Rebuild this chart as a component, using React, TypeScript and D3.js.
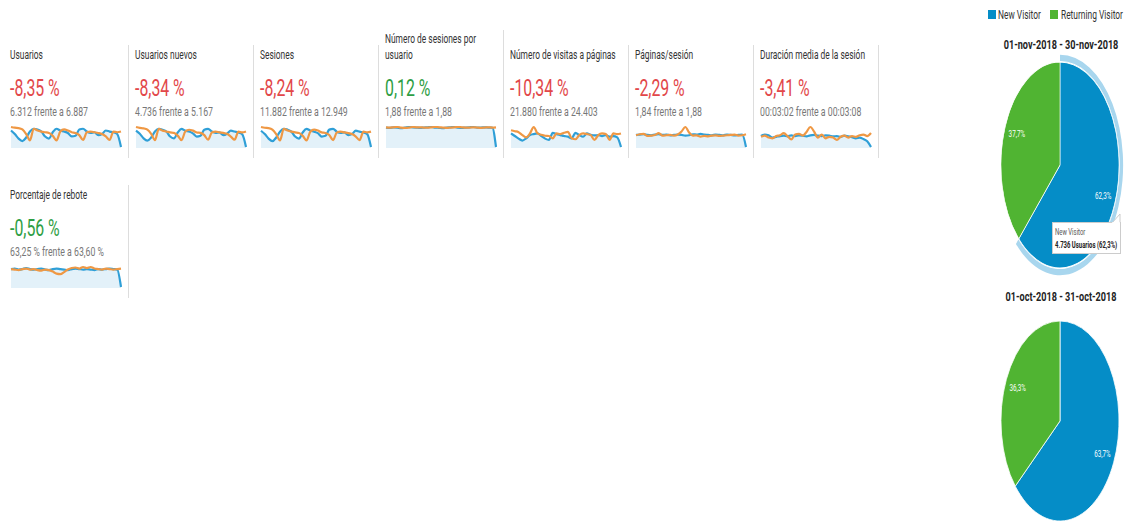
import React from "react";
import * as d3 from "d3";

// metric tiles (current period = Nov 2018, previous = Oct 2018)
const metricNames = [
  "Usuarios",
  "Usuarios nuevos",
  "Sesiones",
  "Número de sesiones por usuario",
  "Número de visitas a páginas",
  "Páginas/sesión",
  "Duración media de la sesión",
  "Porcentaje de rebote",
];
const metricChanges = ["-8,35 %", "-8,34 %", "-8,24 %", "0,12 %", "-10,34 %", "-2,29 %", "-3,41 %", "-0,56 %"];
const metricGood = [false, false, false, true, false, false, false, true];
const metricCompare = [
  "6.312 frente a 6.887",
  "4.736 frente a 5.167",
  "11.882 frente a 12.949",
  "1,88 frente a 1,88",
  "21.880 frente a 24.403",
  "1,84 frente a 1,88",
  "00:03:02 frente a 00:03:08",
  "63,25 % frente a 63,60 %",
];

// daily values, Nov (current) and Oct (previous)
const usuariosNov = [240,220,194,180,200,234,250,246,234,206,194,230,250,240,234,226,206,210,246,250,234,226,230,214,220,240,234,230,220,146];
const usuariosOct = [260,256,254,246,220,184,250,240,234,230,226,210,184,234,246,240,230,226,214,186,230,234,230,226,220,206,186,234,230,234];
const nuevosNov = [180,166,146,136,150,176,188,184,176,154,146,172,188,180,176,168,154,158,184,188,176,170,172,160,166,180,176,172,164,108];
const nuevosOct = [196,192,190,184,166,138,188,180,176,172,170,158,138,176,184,180,172,170,160,140,172,176,172,170,166,154,140,176,172,176];
const sesionesNov = [450,414,366,338,378,440,470,462,440,388,366,432,470,452,440,424,388,396,462,470,440,426,432,404,414,452,440,432,414,276];
const sesionesOct = [490,482,478,462,414,346,470,452,440,432,426,396,346,440,462,452,432,426,404,350,432,440,432,426,414,388,350,440,432,440];
const sesPorUsuarioNov = [1.88,1.87,1.89,1.88,1.86,1.88,1.9,1.89,1.88,1.87,1.88,1.89,1.9,1.88,1.87,1.86,1.88,1.89,1.9,1.88,1.87,1.88,1.89,1.9,1.88,1.88,1.89,1.88,1.88,1.2];
const sesPorUsuarioOct = [1.89,1.88,1.89,1.9,1.88,1.87,1.88,1.9,1.89,1.89,1.88,1.88,1.89,1.9,1.89,1.88,1.87,1.88,1.89,1.9,1.89,1.88,1.88,1.89,1.88,1.87,1.88,1.89,1.88,1.89];
const paginasNov = [700,620,540,480,550,650,680,700,620,540,500,720,680,650,620,600,550,720,650,600,700,660,640,650,620,650,600,620,580,280];
const paginasOct = [800,770,740,650,580,700,900,700,660,630,620,550,700,680,720,750,550,520,650,700,680,650,500,650,700,680,500,700,680,700];
const pagSesionNov = [1.85,1.86,1.87,1.85,1.84,1.86,1.87,1.85,1.86,1.84,1.85,1.86,1.85,1.83,1.84,1.87,1.86,1.88,1.86,1.85,1.84,1.86,1.85,1.84,1.86,1.85,1.84,1.85,1.86,1.5];
const pagSesionOct = [1.84,1.87,1.88,1.82,1.83,1.85,1.9,1.83,1.84,1.85,1.83,1.86,1.95,2.08,1.92,1.83,1.84,1.8,1.82,1.81,1.83,1.84,1.82,1.83,1.84,1.85,1.86,1.83,1.84,1.87];
const duracionNov = [181,185,183,177,179,181,182,180,183,181,183,182,180,183,184,182,181,183,182,180,181,179,182,180,178,175,177,173,167,152];
const duracionOct = [179,182,177,175,181,183,189,181,172,185,187,182,192,205,193,177,185,175,179,177,171,179,182,177,181,179,183,185,181,189];
const reboteNov = [63.5,63.6,63.4,63.5,63.7,63.5,63.4,63.5,63.6,63.4,63.3,63.5,63.6,63.5,63.4,63.3,63.5,63.6,63.5,63.4,63.5,63.4,63.3,63.5,63.4,63.5,63.6,63.5,63.4,60.0];
const reboteOct = [63.5,63.4,63.3,63.5,63.6,63.4,63.5,63.3,63.2,63.4,63.3,63.0,62.6,62.5,62.9,63.4,63.7,63.8,63.6,63.9,63.7,63.9,63.6,63.5,63.4,63.6,63.5,63.4,63.5,63.6];

const currentSeries = [usuariosNov, nuevosNov, sesionesNov, sesPorUsuarioNov, paginasNov, pagSesionNov, duracionNov, reboteNov];
const previousSeries = [usuariosOct, nuevosOct, sesionesOct, sesPorUsuarioOct, paginasOct, pagSesionOct, duracionOct, reboteOct];

// pies
const visitorTypes = ["New Visitor", "Returning Visitor"];
const novVisitors = [4736, 2866];
const octVisitors = [5167, 2944];
const pieTitles = ["01-nov-2018 - 30-nov-2018", "01-oct-2018 - 31-oct-2018"];

const BLUE = "#058dc7";
const GREEN = "#50b432";
const LINE_BLUE = "#2f9fd7";
const LINE_ORANGE = "#ef9844";
const SX = 0.7; // screenshot text is horizontally condensed
const FONT = "Roboto, 'Noto Sans', sans-serif";

const T = ({ x, y, size, fill = "#333", weight = 400, anchor = "start", sx = SX, children }: any) => (
  <text
    transform={`translate(${x},${y}) scale(${sx},1)`}
    fontSize={size}
    fill={fill}
    fontWeight={weight}
    textAnchor={anchor}
    fontFamily={FONT}
  >
    {children}
  </text>
);

const Sparkline = ({ x0, y0, cur, prev }: any) => {
  const w = 110;
  const h = 20;
  const xs = d3.scaleLinear().domain([0, cur.length - 1]).range([x0, x0 + w]);
  const all = cur.concat(prev);
  const ys = d3.scaleLinear().domain([d3.min(all), d3.max(all)]).range([y0 + h, y0]);
  const line = d3.line<number>().x((_, i) => xs(i)).y((d) => ys(d)).curve(d3.curveMonotoneX);
  const area = d3.area<number>().x((_, i) => xs(i)).y0(y0 + h + 1).y1((d) => ys(d)).curve(d3.curveMonotoneX);
  return (
    <g>
      <path d={area(cur) || ""} fill="#e3f1f9" />
      <path d={line(cur) || ""} fill="none" stroke={LINE_BLUE} strokeWidth={2.2} strokeLinejoin="round" />
      <path d={line(prev) || ""} fill="none" stroke={LINE_ORANGE} strokeWidth={2.2} strokeLinejoin="round" />
    </g>
  );
};

const fmtPct = (v: number) => (v * 100).toFixed(1).replace(".", ",") + "%";

const Pie = ({ cx, cy, rx, ry, counts, highlight }: any) => {
  const R = 100;
  const total = d3.sum(counts);
  const arcs = d3.pie<number>().sort(null).value((d) => d)(counts);
  const arc = d3.arc<any>().innerRadius(0).outerRadius(R);
  const ring = d3.arc<any>().innerRadius(R + 1).outerRadius(R + 7);
  const labelArc = d3.arc<any>().innerRadius(R * 0.79).outerRadius(R * 0.79);
  const colors = [BLUE, GREEN];
  return (
    <g>
      <g transform={`translate(${cx},${cy}) scale(${rx / R},${ry / R})`}>
        {highlight && <path d={ring(arcs[0]) || ""} fill="#a8d6ee" />}
        {arcs.map((a, i) => (
          <path key={i} d={arc(a) || ""} fill={colors[i]} stroke="#fff" strokeWidth={1} />
        ))}
      </g>
      {arcs.map((a, i) => {
        const [lx, ly] = labelArc.centroid(a);
        return (
          <T key={i} x={cx + (lx * rx) / R} y={cy + (ly * ry) / R + 3} size={9} fill="#fff" anchor="middle">
            {fmtPct(counts[i] / total)}
          </T>
        );
      })}
    </g>
  );
};

export default function App() {
  const colX = d3.range(7).map((i) => 10 + i * 125);
  const tiles = metricNames.map((name, i) => ({
    name,
    x: i < 7 ? colX[i] : colX[0],
    dy: i < 7 ? 0 : 140,
    i,
  }));
  const novTotal = d3.sum(novVisitors);

  return (
    <svg width={1124} height={522} style={{ position: "absolute", left: 0, top: 0, background: "#fff" }}>
      {/* separators */}
      {colX.map((x, i) => (
        <line key={i} x1={x + 118.5} x2={x + 118.5} y1={i === 3 ? 30 : 45} y2={158} stroke="#ddd" />
      ))}
      <line x1={128.5} x2={128.5} y1={185} y2={298} stroke="#ddd" />

      {tiles.map((t) => (
        <g key={t.i}>
          {t.i === 3 ? (
            <>
              <T x={t.x} y={43 + t.dy} size={12}>Número de sesiones por</T>
              <T x={t.x} y={59 + t.dy} size={12}>usuario</T>
            </>
          ) : (
            <T x={t.x} y={59 + t.dy} size={12}>{t.name}</T>
          )}
          <T x={t.x} y={96 + t.dy} size={24} sx={0.66} fill={metricGood[t.i] ? "#2e9e44" : "#e2474a"}>
            {metricChanges[t.i]}
          </T>
          <T x={t.x} y={116 + t.dy} size={12.5} fill="#777">{metricCompare[t.i]}</T>
          <Sparkline x0={t.x + 1} y0={127 + t.dy} cur={currentSeries[t.i]} prev={previousSeries[t.i]} />
        </g>
      ))}

      {/* legend */}
      <rect x={988} y={10} width={8} height={9} fill={BLUE} />
      <T x={998} y={19} size={12} fill="#333">{visitorTypes[0]}</T>
      <rect x={1050} y={10} width={8} height={9} fill={GREEN} />
      <T x={1061} y={19} size={12} fill="#333">{visitorTypes[1]}</T>

      <T x={1061} y={49} size={13} weight={700} anchor="middle" fill="#222">{pieTitles[0]}</T>
      <Pie cx={1060} cy={165} rx={59} ry={103} counts={novVisitors} highlight />
      <T x={1061} y={301} size={13} weight={700} anchor="middle" fill="#222">{pieTitles[1]}</T>
      <Pie cx={1060} cy={421} rx={59} ry={100} counts={octVisitors} highlight={false} />

      {/* tooltip */}
      <g>
        <rect x={1052.5} y={222.5} width={68} height={31} fill="#fff" stroke="#ccc" />
        <path d="M1112,223 L1120,214 L1120,223" fill="#fff" stroke="#ccc" />
        <line x1={1112} x2={1120} y1={223} y2={223} stroke="#fff" strokeWidth={1.5} />
        <T x={1055} y={235} size={8.5} fill="#555">{visitorTypes[0]}</T>
        <T x={1055} y={248} size={8.5} weight={700} fill="#222">
          {`${d3.format(",")(novVisitors[0]).replace(",", ".")} Usuarios (${fmtPct(novVisitors[0] / novTotal)})`}
        </T>
      </g>
    </svg>
  );
}
